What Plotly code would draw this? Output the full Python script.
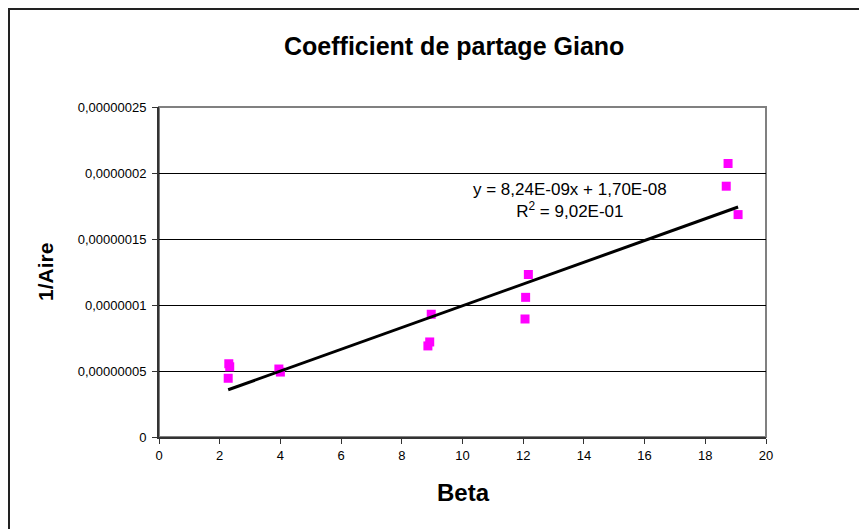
import plotly.graph_objects as go

beta = [2.30, 2.33, 2.28, 3.95, 4.00, 8.86, 8.92, 8.97, 12.06, 12.08, 12.17, 18.69, 18.75, 19.08]
inv_aire = [5.55e-8, 5.32e-8, 4.45e-8, 5.15e-8, 4.92e-8, 6.9e-8, 7.2e-8, 9.3e-8,
            8.94e-8, 1.058e-7, 1.231e-7, 1.90e-7, 2.072e-7, 1.685e-7]
slope = 8.24e-9
intercept = 1.70e-8
x_ticks = list(range(0, 21, 2))
y_ticks = [0, 5e-8, 1e-7, 1.5e-7, 2e-7, 2.5e-7]
y_tick_labels = ["0", "0,00000005", "0,0000001", "0,00000015", "0,0000002", "0,00000025"]

title = "Coefficient de partage Giano"
x_title = "Beta"
y_title = "1/Aire"
eq_text = "y = 8,24E-09x + 1,70E-08<br>R<sup>2</sup> = 9,02E-01"

W, H = 867, 529
L, T = 151, 99
pw, ph = 607, 330
R, B = W - L - pw, H - T - ph
OFF = 8  # page body offset


def px(sx):
    # screen x -> paper x
    return (sx - OFF - L) / pw


def py(sy):
    # screen y -> paper y
    return (T + ph - (sy - OFF)) / ph


fig = go.Figure()
fig.add_trace(go.Scatter(
    x=beta, y=inv_aire, mode="markers",
    marker=dict(symbol="square", size=9, color="#FF00FF", line=dict(width=0)),
    showlegend=False, hoverinfo="x+y"))

xmin, xmax = min(beta), max(beta)
fig.add_trace(go.Scatter(
    x=[xmin, xmax], y=[slope * xmin + intercept, slope * xmax + intercept],
    mode="lines", line=dict(color="black", width=3), showlegend=False))

font = "Arial, Liberation Sans, sans-serif"
fig.update_layout(
    width=W, height=H,
    margin=dict(l=L, r=R, t=T, b=B, autoexpand=False),
    paper_bgcolor="white", plot_bgcolor="white",
    font=dict(family=font, color="black", size=13),
    xaxis=dict(range=[0, 20], tickvals=x_ticks, ticktext=[str(v) for v in x_ticks],
               showgrid=False, zeroline=False, showline=True, linecolor="#333333",
               linewidth=2, ticks="outside", ticklen=5, tickcolor="#333333",
               tickfont=dict(size=13), fixedrange=True),
    yaxis=dict(range=[0, 2.5e-7], tickvals=y_ticks, ticktext=y_tick_labels,
               showgrid=True, gridcolor="black", gridwidth=1, zeroline=False,
               showline=True, linecolor="#333333", linewidth=2, ticks="outside",
               ticklen=5, tickcolor="#333333", tickfont=dict(size=13),
               ticklabelstandoff=3, fixedrange=True),
    shapes=[
        dict(type="rect", xref="paper", yref="paper", x0=0, x1=1, y0=0, y1=1,
             line=dict(color="#808080", width=2), layer="below"),
        dict(type="rect", xref="paper", yref="paper", x0=px(9), x1=px(1000),
             y0=py(700), y1=py(9), line=dict(color="#222222", width=2), layer="below"),
    ],
    annotations=[
        dict(text="<b>" + title + "</b>", xref="paper", yref="paper", x=px(454), y=py(46),
             xanchor="center", yanchor="middle", showarrow=False,
             font=dict(size=25, family=font, color="black")),
        dict(text="<b>" + x_title + "</b>", xref="paper", yref="paper", x=px(463), y=py(492),
             xanchor="center", yanchor="middle", showarrow=False,
             font=dict(size=24, family=font, color="black")),
        dict(text="<b>" + y_title + "</b>", xref="paper", yref="paper", x=px(45), y=py(272),
             xanchor="center", yanchor="middle", showarrow=False, textangle=-90,
             font=dict(size=21, family=font, color="black")),
        dict(text=eq_text, xref="paper", yref="paper", x=px(570), y=py(200),
             xanchor="center", yanchor="middle", showarrow=False, align="center",
             font=dict(size=17, family=font, color="black")),
    ],
)

fig.write_html("out.html")
